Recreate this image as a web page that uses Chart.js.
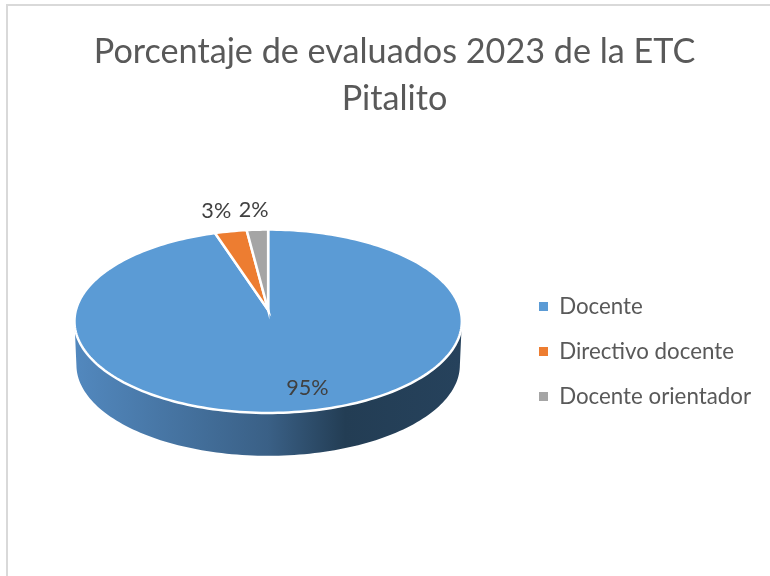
<!DOCTYPE html>
<html><head><meta charset="utf-8">
<script src="https://cdn.jsdelivr.net/npm/chart.js@4"></script>
<style>html,body{margin:0;padding:0;background:#fff}#w{width:770px;height:576px}</style>
</head><body><div id="w"><canvas id="c" width="770" height="576"></canvas></div>
<script>
const categories = ["Docente", "Directivo docente", "Docente orientador"];
const percentages = [95, 3, 2];
const sliceColors = ["#5B9BD5", "#ED7D31", "#A5A5A5"];
const titleLines = ["Porcentaje de evaluados 2023 de la ETC", "Pitalito"];

const FONT = "Lato";
const TILT = 0.468, WIDE = 0.996, PERSP = 0.1226, DEPTH = 44;

function project(el, a, r) {
  const u = r * Math.cos(a), v = r * Math.sin(a), w = 1 - PERSP * v;
  return [el.x + el.outerRadius * WIDE * u / w, el.y + el.outerRadius * TILT * v / w];
}
const pie3d = {
  id: "pie3d",
  afterLayout(chart) {
    chart.legend.top += 100; chart.legend.bottom += 100;
    chart.titleBlock.left += 4; chart.titleBlock.right += 4;
    chart.titleBlock.top += 5; chart.titleBlock.bottom += 5;
  },
  beforeDraw(chart) {
    const c = chart.ctx;
    c.save();
    c.fillStyle = "#fff"; c.fillRect(0, 0, chart.width, chart.height);
    c.strokeStyle = "#d9d9d9"; c.lineWidth = 2;
    c.beginPath(); c.moveTo(7, chart.height); c.lineTo(7, 5); c.lineTo(chart.width, 5); c.stroke();
    c.restore();
  },
  beforeDatasetDraw(chart, args) {
    const c = chart.ctx, arcs = chart.getDatasetMeta(args.index).data;
    c.save();
    // side wall of the slice facing the viewer
    const el = arcs[0];
    const a0 = Math.asin(PERSP), a1 = Math.PI - a0, n = 120;
    const g = c.createLinearGradient(el.x - el.outerRadius, 0, el.x + el.outerRadius, 0);
    g.addColorStop(0, "#5288BE");
    g.addColorStop(0.5, "#3A6086");
    g.addColorStop(0.7, "#233D54");
    g.addColorStop(1, "#26425C");
    c.fillStyle = g;
    c.beginPath();
    for (let i = 0; i <= n; i++) {
      const p = project(el, a0 + (a1 - a0) * i / n, 1);
      i ? c.lineTo(p[0], p[1]) : c.moveTo(p[0], p[1]);
    }
    for (let i = n; i >= 0; i--) {
      const p = project(el, a0 + (a1 - a0) * i / n, 0.99);
      c.lineTo(p[0], p[1] + DEPTH);
    }
    c.closePath(); c.fill();
    // top face
    arcs.forEach(arc => {
      const s = arc.startAngle, e = arc.endAngle, m = Math.max(8, Math.ceil((e - s) * 40));
      c.beginPath(); c.moveTo(arc.x, arc.y);
      for (let i = 0; i <= m; i++) {
        const p = project(arc, s + (e - s) * i / m, 1);
        c.lineTo(p[0], p[1]);
      }
      c.closePath();
      c.fillStyle = arc.options.backgroundColor; c.fill();
      c.strokeStyle = "#fff"; c.lineWidth = 2.5; c.lineJoin = "miter"; c.stroke();
    });
    // value labels
    c.fillStyle = "#404040"; c.font = "21.6px " + FONT;
    c.textAlign = "center"; c.textBaseline = "middle";
    const nudge = [13, -5, -1];
    arcs.forEach((arc, i) => {
      const mid = (arc.startAngle + arc.endAngle) / 2;
      const p = project(arc, mid, percentages[i] > 50 ? 0.79 : 1.29);
      c.fillText(percentages[i] + "%", p[0] + nudge[i], p[1]);
    });
    c.restore();
    return false;
  }
};

new Chart(document.getElementById("c"), {
  type: "pie",
  data: { labels: categories, datasets: [{ data: percentages, backgroundColor: sliceColors, borderWidth: 0, radius: 193 }] },
  options: {
    responsive: false, animation: false,
    layout: { padding: { left: 20, right: 9, top: 0, bottom: 73 } },
    plugins: {
      tooltip: { enabled: false },
      title: {
        display: true, text: titleLines, color: "#595959",
        font: { family: FONT, size: 34.2, weight: "normal", lineHeight: 1.36 },
        padding: { top: 24, bottom: 0 }
      },
      legend: {
        position: "right",
        labels: { boxWidth: 9, boxHeight: 9, color: "#595959", padding: 22.7,
          font: { family: FONT, size: 22.3, lineHeight: 1.2 } }
      }
    }
  },
  plugins: [pie3d]
});
</script></body></html>
